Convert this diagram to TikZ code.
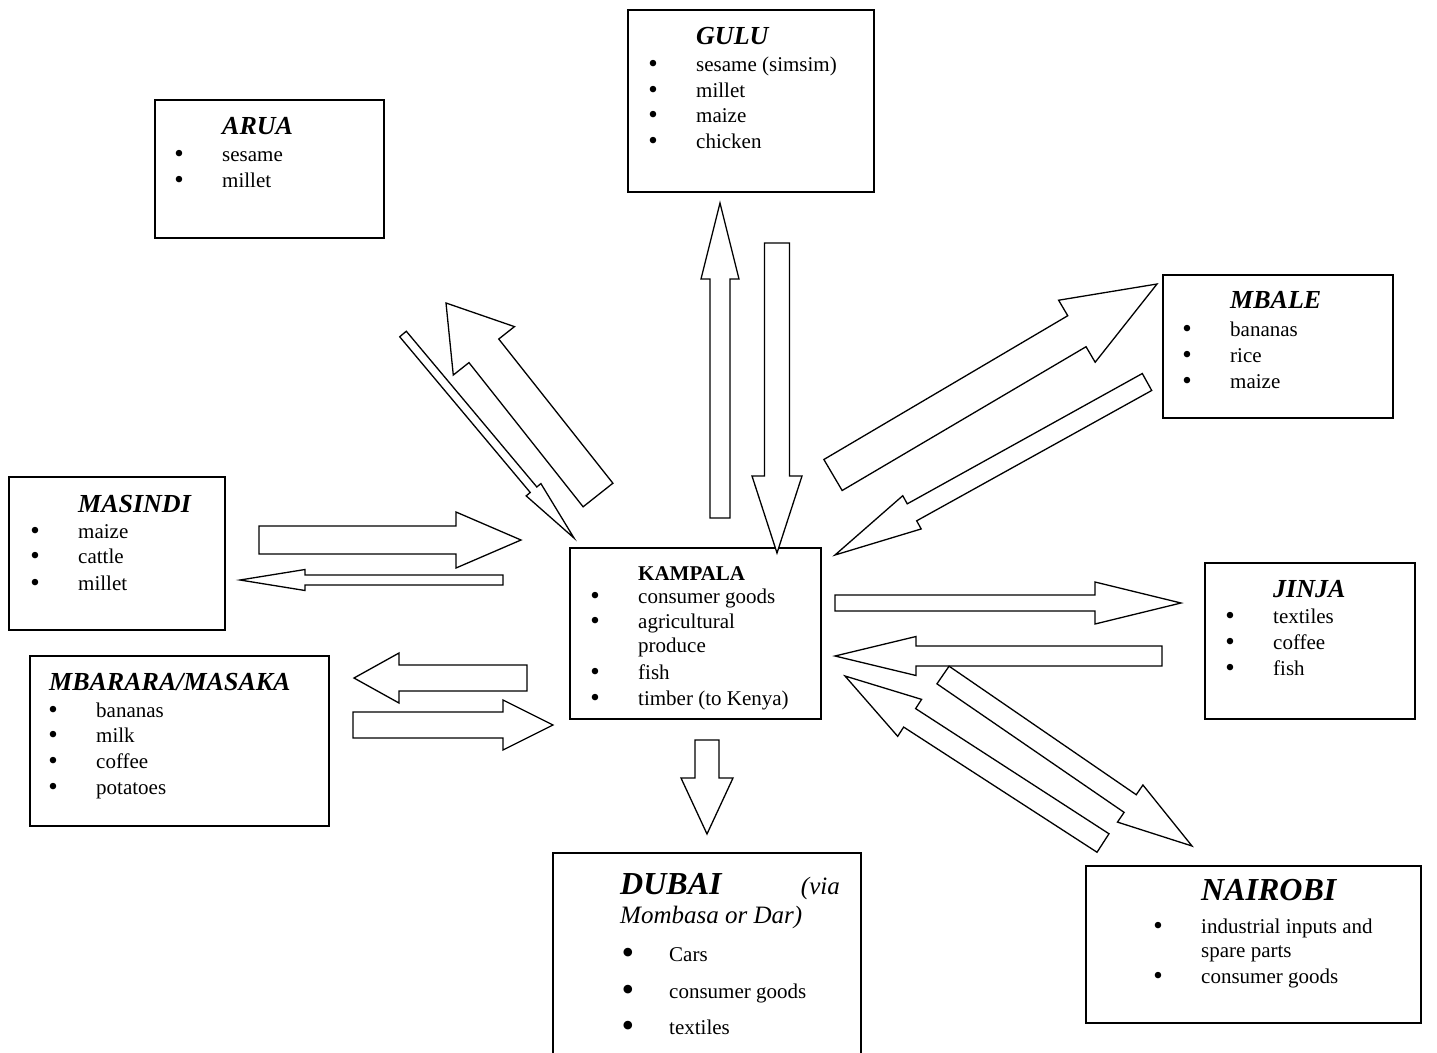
\documentclass[tikz,border=0pt]{standalone}
\usepackage{fontspec}
\setmainfont{Liberation Serif}
\usetikzlibrary{calc}

\tikzset{
  place/.style={draw, line width=1.6pt, anchor=north west, inner sep=0pt},
  town/.style={anchor=base west, inner sep=0pt, font=\fontsize{26}{30}\selectfont\bfseries\itshape},
  item/.style={anchor=base west, inner sep=0pt, font=\fontsize{21}{25}\selectfont},
  flow/.style={draw, fill=white, line width=1.3pt, line join=miter}
}
\newcommand{\blt}{\llap{\raisebox{-1.5pt}{\fontsize{27}{27}\selectfont\textbullet}\hspace{38.3pt}}}
\newcommand{\bigblt}{\llap{\raisebox{-3pt}{\fontsize{36}{36}\selectfont\textbullet}\hspace{35pt}}}
% block arrow: tail, tip, half shaft, half head, head length
\newcommand{\fatarrow}[5]{%
  \draw[flow] ($(#1)!#3pt!90:(#2)$)
    -- ($(#2)!#5pt!(#1)!#3pt!90:(#2)$)
    -- ($(#2)!#5pt!(#1)!#4pt!90:(#2)$)
    -- (#2)
    -- ($(#2)!#5pt!(#1)!#4pt!-90:(#2)$)
    -- ($(#2)!#5pt!(#1)!#3pt!-90:(#2)$)
    -- ($(#1)!#3pt!-90:(#2)$) -- cycle;}

\begin{document}
\begin{tikzpicture}[x=1pt, y=-1pt]
  \useasboundingbox (0,0) rectangle (1437,1052);

  % boxes
  \node[place, minimum width=229pt, minimum height=138pt] (arua) at (154,99) {};
  \node[place, minimum width=246pt, minimum height=182pt] (gulu) at (627,9) {};
  \node[place, minimum width=230pt, minimum height=143pt] (mbale) at (1162,274) {};
  \node[place, minimum width=216pt, minimum height=153pt] (masindi) at (8,476) {};
  \node[place, minimum width=299pt, minimum height=170pt] (mbarara) at (29,655) {};
  \node[place, minimum width=251pt, minimum height=171pt] (kampala) at (569,547) {};
  \node[place, minimum width=210pt, minimum height=156pt] (jinja) at (1204,562) {};
  \node[place, minimum width=308pt, minimum height=230pt] (dubai) at (552,852) {};
  \node[place, minimum width=335pt, minimum height=157pt] (nairobi) at (1085,865) {};

  % arrow ends
  \coordinate (gu1s) at (720,518); \coordinate (gu1e) at (720,203);
  \coordinate (gu2s) at (777,243); \coordinate (gu2e) at (777,553);
  \coordinate (ar1s) at (403,334); \coordinate (ar1e) at (574,538);
  \coordinate (ar2s) at (598,495); \coordinate (ar2e) at (446,303);
  \coordinate (mb1s) at (833,475); \coordinate (mb1e) at (1157,284);
  \coordinate (mb2s) at (1147,382); \coordinate (mb2e) at (835,555);
  \coordinate (ma1s) at (259,540); \coordinate (ma1e) at (521,540);
  \coordinate (ma2s) at (503,580); \coordinate (ma2e) at (240,580);
  \coordinate (mr1s) at (527,678); \coordinate (mr1e) at (354,678);
  \coordinate (mr2s) at (353,725); \coordinate (mr2e) at (553,725);
  \coordinate (ji1s) at (835,603); \coordinate (ji1e) at (1181,603);
  \coordinate (ji2s) at (1162,656); \coordinate (ji2e) at (835,656);
  \coordinate (na1s) at (1103,843); \coordinate (na1e) at (845,676);
  \coordinate (na2s) at (943,675); \coordinate (na2e) at (1192,846);
  \coordinate (du1s) at (707,740); \coordinate (du1e) at (707,834);

  \fatarrow{gu1s}{gu1e}{10}{19}{76}
  \fatarrow{gu2s}{gu2e}{12.5}{25}{77}
  \fatarrow{ar1s}{ar1e}{4.3}{9.6}{63}
  \fatarrow{ar2s}{ar2e}{19}{39}{61}
  \fatarrow{mb1s}{mb1e}{18}{36}{93}
  \fatarrow{mb2s}{mb2e}{9.7}{19}{88}
  \fatarrow{ma1s}{ma1e}{14}{28}{65}
  \fatarrow{ma2s}{ma2e}{5}{10.5}{65}
  \fatarrow{mr1s}{mr1e}{13}{25}{45}
  \fatarrow{mr2s}{mr2e}{13}{25}{50}
  \fatarrow{ji1s}{ji1e}{8}{21}{86}
  \fatarrow{ji2s}{ji2e}{10}{19.5}{81}
  \fatarrow{na1s}{na1e}{11}{22}{77}
  \fatarrow{na2s}{na2e}{10.7}{22.5}{75}
  \fatarrow{du1s}{du1e}{12}{26}{56}

  % ARUA
  \node[town] (arua-t) at (222,134) {ARUA};
  \node[item] (arua-1) at (222,161) {\blt sesame};
  \node[item] (arua-2) at (222,187) {\blt millet};

  % GULU
  \node[town] (gulu-t) at (696,44) {GULU};
  \node[item] (gulu-1) at (696,71) {\blt sesame (simsim)};
  \node[item] (gulu-2) at (696,97) {\blt millet};
  \node[item] (gulu-3) at (696,122) {\blt maize};
  \node[item] (gulu-4) at (696,148) {\blt chicken};

  % MBALE
  \node[town] (mbale-t) at (1230,308) {MBALE};
  \node[item] (mbale-1) at (1230,336) {\blt bananas};
  \node[item] (mbale-2) at (1230,362) {\blt rice};
  \node[item] (mbale-3) at (1230,388) {\blt maize};

  % MASINDI
  \node[town] (masindi-t) at (78,512) {MASINDI};
  \node[item] (masindi-1) at (78,538) {\blt maize};
  \node[item] (masindi-2) at (78,563) {\blt cattle};
  \node[item] (masindi-3) at (78,590) {\blt millet};

  % MBARARA/MASAKA
  \node[town] (mbarara-t) at (49,690) {MBARARA/MASAKA};
  \node[item] (mbarara-1) at (96,717) {\blt bananas};
  \node[item] (mbarara-2) at (96,742) {\blt milk};
  \node[item] (mbarara-3) at (96,768) {\blt coffee};
  \node[item] (mbarara-4) at (96,794) {\blt potatoes};

  % KAMPALA
  \node[item, font=\fontsize{21}{25}\selectfont\bfseries] (kampala-t) at (638,580) {KAMPALA};
  \node[item] (kampala-1) at (638,603) {\blt consumer goods};
  \node[item] (kampala-2) at (638,628) {\blt agricultural};
  \node[item] (kampala-2b) at (638,652) {produce};
  \node[item] (kampala-3) at (638,679) {\blt fish};
  \node[item] (kampala-4) at (638,705) {\blt timber (to Kenya)};

  % JINJA
  \node[town] (jinja-t) at (1273,597) {JINJA};
  \node[item] (jinja-1) at (1273,623) {\blt textiles};
  \node[item] (jinja-2) at (1273,649) {\blt coffee};
  \node[item] (jinja-3) at (1273,675) {\blt fish};

  % DUBAI
  \node[town, font=\fontsize{32}{36}\selectfont\bfseries\itshape] (dubai-t) at (620,894) {DUBAI};
  \node[item, anchor=base east, font=\fontsize{25}{30}\selectfont\itshape] (dubai-v) at (840,894) {(via};
  \node[item, font=\fontsize{25}{30}\selectfont\itshape] (dubai-m) at (620,923) {Mombasa or Dar)};
  \node[item] (dubai-1) at (669,961) {\bigblt Cars};
  \node[item] (dubai-2) at (669,998) {\bigblt consumer goods};
  \node[item] (dubai-3) at (669,1034) {\bigblt textiles};

  % NAIROBI
  \node[town, font=\fontsize{32}{36}\selectfont\bfseries\itshape] (nairobi-t) at (1201,900) {NAIROBI};
  \node[item] (nairobi-1) at (1201,933) {\blt industrial inputs and};
  \node[item] (nairobi-1b) at (1201,957) {spare parts};
  \node[item] (nairobi-2) at (1201,983) {\blt consumer goods};
\end{tikzpicture}
\end{document}
